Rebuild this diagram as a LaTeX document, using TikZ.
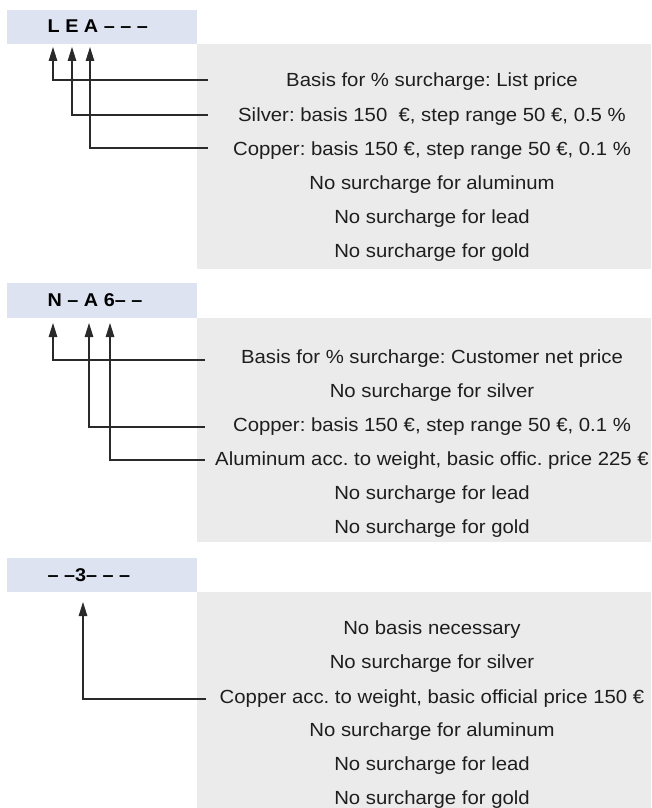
\documentclass[tikz,border=0pt]{standalone}
\usepackage{fontspec}
\setmainfont{Liberation Sans}[FakeStretch=1.07]
\usetikzlibrary{arrows.meta}
\definecolor{hdrblue}{HTML}{DDE3F1}
\definecolor{panelgray}{HTML}{EBEBEB}
\definecolor{txt}{HTML}{1E1E1E}
\definecolor{ln}{HTML}{2A2A2A}
\frenchspacing
\begin{document}
\begin{tikzpicture}[x=1pt,y=-1pt,
  hdr/.style={fill=hdrblue, draw=none},
  panel/.style={fill=panelgray, draw=none},
  row/.style={inner sep=0pt, text=txt, font=\fontsize{19}{22}\selectfont, anchor=base, yshift=-6.7pt},
  code/.style={inner sep=0pt, anchor=base west, text=black, font=\fontsize{18.5}{22}\selectfont\bfseries},
  conn/.style={draw=ln, line width=1.2pt, -{Triangle[length=14pt,width=8.5pt]}},
]
\useasboundingbox (0,0) rectangle (651,808);
% ---------- section 1 ----------
\path[hdr] (7,10) rectangle (197,44);
\path[panel] (197,44) rectangle (651,269);
\node[code] (h1) at (47.5,32.5) {L E A – – –};
\node[row] (a1) at (432,80) {Basis for \% surcharge: List price};
\node[row] (a2) at (432,115) {Silver: basis 150\ \ €, step range 50 €, 0.5 \%};
\node[row] (a3) at (432,149) {Copper: basis 150 €, step range 50 €, 0.1 \%};
\node[row] (a4) at (432,183) {No surcharge for aluminum};
\node[row] (a5) at (432,217) {No surcharge for lead};
\node[row] (a6) at (432,251) {No surcharge for gold};
\coordinate (t1L) at (53,47);
\coordinate (t1E) at (72,47);
\coordinate (t1A) at (90,47);
\coordinate (e11) at (208,80);
\coordinate (e12) at (208,115);
\coordinate (e13) at (208,148);
\draw[conn] (e11) -| (t1L);
\draw[conn] (e12) -| (t1E);
\draw[conn] (e13) -| (t1A);
% ---------- section 2 ----------
\path[hdr] (7,283) rectangle (197,318);
\path[panel] (197,318) rectangle (651,542);
\node[code] (h2) at (47.5,306) {N – A 6– –};
\node[row] (b1) at (432,357) {Basis for \% surcharge: Customer net price};
\node[row] (b2) at (432,391) {No surcharge for silver};
\node[row] (b3) at (432,425) {Copper: basis 150 €, step range 50 €, 0.1 \%};
\node[row] (b4) at (432,459) {Aluminum acc. to weight, basic offic. price 225 €};
\node[row] (b5) at (432,493) {No surcharge for lead};
\node[row] (b6) at (432,527) {No surcharge for gold};
\coordinate (t2N) at (53,323);
\coordinate (t2A) at (89,323);
\coordinate (t26) at (110,323);
\coordinate (e21) at (205,360);
\coordinate (e22) at (205,427);
\coordinate (e23) at (205,460);
\draw[conn] (e21) -| (t2N);
\draw[conn] (e22) -| (t2A);
\draw[conn] (e23) -| (t26);
% ---------- section 3 ----------
\path[hdr] (7,558) rectangle (197,592);
\path[panel] (197,592) rectangle (651,808);
\node[code] (h3) at (47.5,581) {– –3– – –};
\node[row] (c1) at (432,628) {No basis necessary};
\node[row] (c2) at (432,662) {No surcharge for silver};
\node[row] (c3) at (432,697) {Copper acc. to weight, basic official price 150 €};
\node[row] (c4) at (432,730) {No surcharge for aluminum};
\node[row] (c5) at (432,764) {No surcharge for lead};
\node[row] (c6) at (432,798) {No surcharge for gold};
\coordinate (t33) at (83,602);
\coordinate (e31) at (206,699);
\draw[conn] (e31) -| (t33);
\end{tikzpicture}
\end{document}
